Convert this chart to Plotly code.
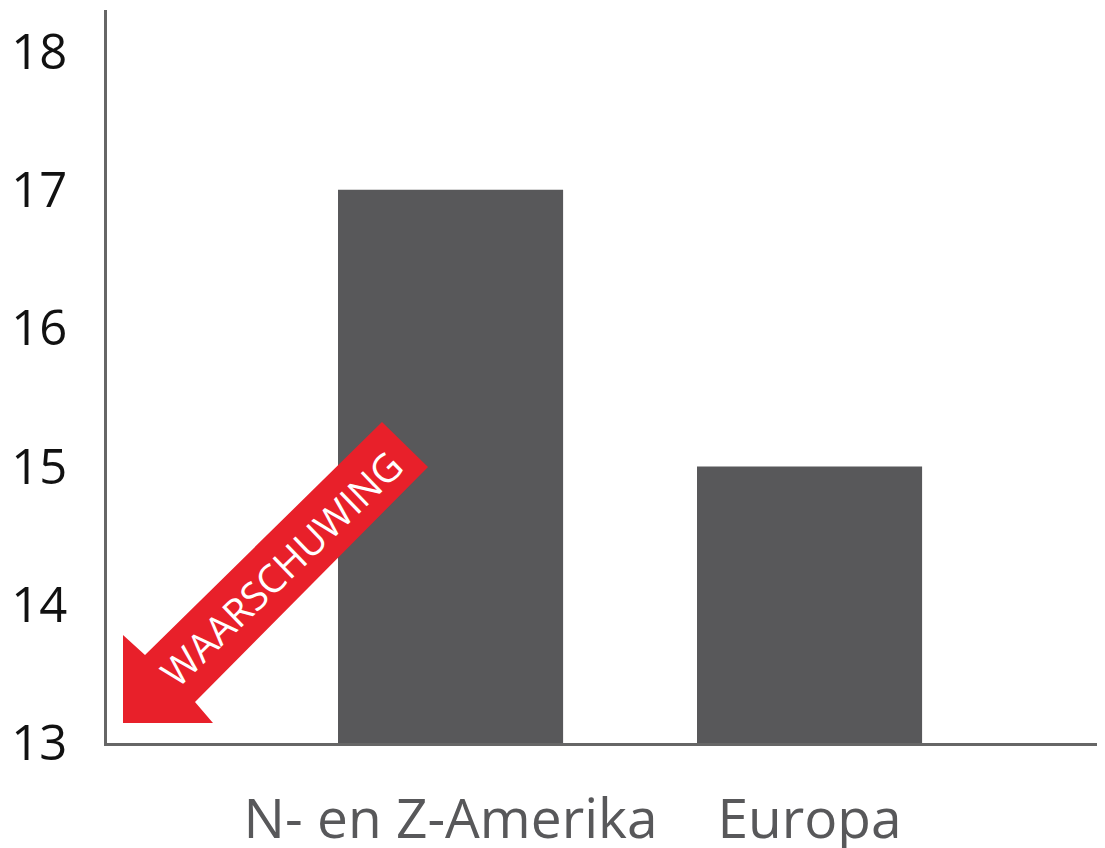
import plotly.graph_objects as go

categories = ["N- en Z-Amerika", "Europa"]
values = [17, 15]
baseline = 13
y_ticks = [13, 14, 15, 16, 17, 18]
warning_text = "WAARSCHUWING"

# the page body has an 8px margin; compensate so screen pixels match
OFF = 8
SW, SH = 1105, 848            # screen size
W, H = SW - OFF, SH - OFF     # figure size
# desired plot area on screen: x 107..1105, y 10..743
ML = 107 - OFF
MR = 0
MT = 10 - OFF
MB = SH - 743
PW, PH = W - ML - MR, H - MT - MB

def px(x):  # screen x -> paper
    return (x - OFF - ML) / PW

def py(y):  # screen y -> paper
    return (H - MB - (y - OFF)) / PH

fig = go.Figure()
fig.add_trace(go.Bar(
    x=categories, y=[v - baseline for v in values], base=baseline,
    width=0.627, marker=dict(color="#58585a", line=dict(width=0)),
    hovertemplate="%{x}: %{customdata}<extra></extra>", customdata=values,
))

arrow_pts = [(123, 635), (145, 655), (382, 422), (428, 467), (195, 702), (213, 723), (123, 723)]
path = "M " + " L ".join(f"{px(x):.5f},{py(y):.5f}" for x, y in arrow_pts) + " Z"

fig.update_layout(
    width=W, height=H,
    margin=dict(l=ML, r=MR, t=MT, b=MB, pad=0, autoexpand=False),
    paper_bgcolor="white", plot_bgcolor="white",
    showlegend=False,
    font=dict(family="Open Sans, sans-serif"),
    xaxis=dict(
        type="category", range=[-0.957, 1.823], automargin=False,
        showgrid=False, zeroline=False,
        showline=True, linecolor="#666666", linewidth=3,
        ticks="", tickfont=dict(size=55, color="#58585a"),
        ticklabelstandoff=26,
    ),
    yaxis=dict(
        range=[13, 18.3], tickvals=y_ticks, automargin=False,
        showgrid=False, zeroline=False,
        showline=True, linecolor="#666666", linewidth=3,
        ticks="", tickfont=dict(size=49, color="#111111"),
        ticklabelstandoff=27,
    ),
    shapes=[dict(type="path", xref="paper", yref="paper", path=path,
                 fillcolor="#e8202a", line=dict(width=0), layer="above")],
    annotations=[dict(
        text=warning_text, xref="paper", yref="paper",
        x=px(280), y=py(568), xanchor="center", yanchor="middle",
        showarrow=False, textangle=-44,
        font=dict(size=39, color="white", family="Open Sans, sans-serif"),
    )],
)

fig.write_html("out.html", config={"displayModeBar": False})
